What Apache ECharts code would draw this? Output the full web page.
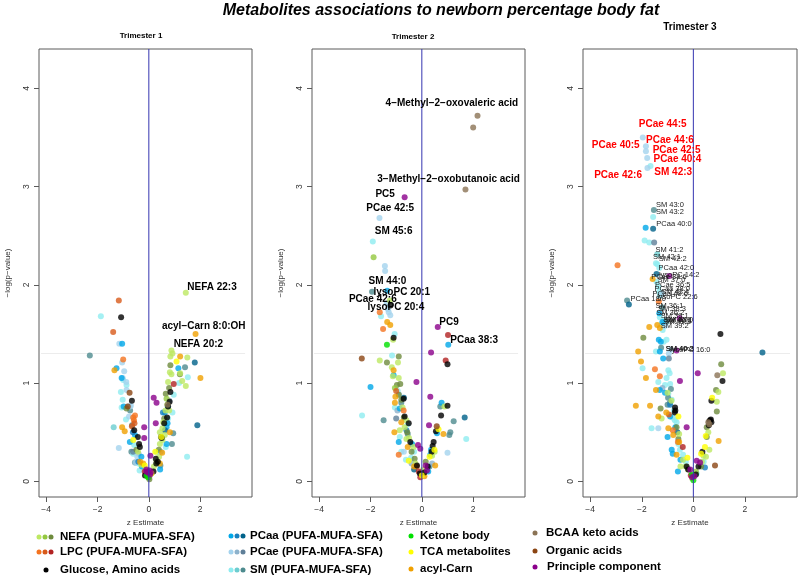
<!DOCTYPE html>
<html><head><meta charset="utf-8">
<script src="https://cdn.jsdelivr.net/npm/echarts@6/dist/echarts.min.js"></script>
<style>html,body{margin:0;padding:0;background:#fff}#c{width:800px;height:578px}</style>
</head><body><div id="c"></div>
<script>
// ---------- categories & legend ----------
const catKeys = ['sm','pcae','pcaa','nefa','lpc','acyl','glu','tca','ket','bcaa','org','pc'];
const catLabels = {
  nefa:'NEFA (PUFA-MUFA-SFA)', lpc:'LPC (PUFA-MUFA-SFA)', glu:'Glucose, Amino acids',
  pcaa:'PCaa (PUFA-MUFA-SFA)', pcae:'PCae (PUFA-MUFA-SFA)', sm:'SM (PUFA-MUFA-SFA)',
  ket:'Ketone body', tca:'TCA metabolites', acyl:'acyl-Carn',
  bcaa:'BCAA keto acids', org:'Organic acids', pc:'Principle component'
};
const catColors = {
  nefa:['#bde862','#94c840','#6e8b3d'], lpc:['#f4731f','#d85a1a','#b22222'], glu:['#000000'],
  pcaa:['#00a8e8','#1580c0','#00628a'], pcae:['#a4d3ee','#8db2cc','#5f7f98'], sm:['#8eecf0','#6ccdd0','#4d8b8e'],
  ket:['#00e000'], tca:['#ffff00'], acyl:['#f0a000'], bcaa:['#8b7355'], org:['#8b4513'], pc:['#8b008b']
};
const panelTitles = ['Trimester 1','Trimester 2','Trimester 3'];
const xTicks = [-4,-2,0,2];
const yTicks = [0,1,2,3,4];
const pThreshold = 1.301; // -log10(0.05)
const zeroLine = [[0,-0.16],[0,4.40]];
const thresholdLine = [[-4.2,pThreshold],[3.75,pThreshold]];

// ---------- Trimester 1 : [z, -log(p), shade] ----------
const t1Nefa = [[1.44,1.92,0],[0.88,1.33,0],[0.92,1.30,0],[0.84,1.27,0],[1.50,1.26,0],[0.84,1.18,2],[0.82,1.11,0],[0.88,1.09,0],[1.21,1.09,2],[1.22,1.10,0],[1.30,1.02,0],[1.44,0.97,0],[0.75,1.01,0],[0.79,0.95,2],[0.66,0.89,2],[0.69,0.84,1],[0.79,0.72,0],[0.65,0.72,0],[0.60,0.64,2],[0.53,0.54,0],[0.43,0.50,0],[0.62,0.47,0],[0.53,0.42,0],[0.43,0.38,0],[0.39,0.32,2],[0.40,0.25,0],[0.30,0.20,0],[0.20,0.15,0],[0.10,0.08,1],[0.02,0.02,2],[-0.05,0.05,0],[-0.87,0.74,2],[-0.48,0.32,2],[-0.42,0.30,0],[-0.30,0.17,0],[0.01,0.04,2],[0.72,0.78,1],[0.56,0.60,0],[0.47,0.45,2]];
const t1Lpc = [[-1.17,1.84,1],[-1.39,1.52,1],[-1.00,1.24,0],[-0.54,0.67,0],[-0.61,0.65,0],[-0.58,0.62,0],[-0.56,0.59,1],[0.97,0.99,2],[-0.16,0.10,2],[-0.66,0.56,1]];
const t1Glu = [[-1.08,1.67],[-0.66,0.82],[-0.57,0.52],[-0.43,0.45],[-0.38,0.38],[-0.35,0.35],[0.84,0.91],[0.81,0.81],[0.71,0.65],[0.60,0.59],[0.35,0.20],[0.27,0.23],[0.29,0.18],[0.50,0.44],[0.18,0.10],[-0.15,0.06],[0.75,0.76]];
const t1Pcaa = [[-1.04,1.40,0],[-1.26,1.15,0],[-1.06,1.05,0],[-0.98,0.76,0],[-0.54,0.47,0],[-0.74,0.40,0],[-0.29,0.25,0],[-0.27,0.15,0],[1.79,1.21,2],[1.15,1.15,0],[0.74,0.76,0],[0.62,0.70,0],[0.73,0.59,0],[0.69,0.55,0],[0.69,0.38,0],[1.89,0.57,2],[0.44,0.12,0],[-0.41,0.20,1],[0.55,0.70,1],[0.63,0.52,2],[-0.62,0.50,1]];
const t1Pcae = [[-1.15,1.40,0],[-1.04,1.21,0],[-0.96,1.12,0],[-1.02,1.05,0],[-0.88,1.01,0],[-0.87,0.93,0],[-0.74,0.76,0],[-0.80,0.76,1],[-0.70,0.77,0],[-0.77,0.66,0],[-1.17,0.34,0],[-0.52,0.19,0],[-0.40,0.28,1],[-0.61,0.30,2],[0.47,0.30,1],[0.80,0.82,1],[-0.45,0.25,0]];
const t1Sm = [[-1.87,1.68,0],[-2.30,1.28,2],[-1.00,1.03,0],[-0.87,0.98,0],[-1.09,0.91,0],[-1.02,0.83,0],[-1.06,0.75,0],[-0.73,0.72,2],[-0.89,0.63,0],[-1.37,0.55,1],[-0.65,0.57,2],[-0.57,0.37,0],[-0.68,0.30,2],[-0.61,0.28,0],[-0.54,0.19,2],[-0.41,0.18,0],[-0.36,0.11,0],[1.41,1.16,2],[1.18,1.00,0],[1.52,1.06,0],[0.97,0.88,0],[0.92,0.70,0],[0.75,0.64,0],[0.95,0.49,2],[0.66,0.35,0],[0.90,0.38,2],[1.49,0.25,0],[0.45,0.16,2],[0.38,0.18,0],[0.30,0.30,0]];
const t1Ket = [[-0.08,0.06],[-0.03,0.04]];
const t1Tca = [[1.08,1.22],[-0.61,0.42],[0.49,0.45],[-0.16,0.16],[0.10,0.08],[0.25,0.30]];
const t1Acyl = [[1.82,1.50],[1.22,1.27],[2.01,1.05],[-1.34,1.13],[-1.04,0.55],[-0.94,0.51],[0.82,0.50],[0.43,0.18],[-0.22,0.18],[0.52,0.29],[-0.34,0.20]];
const t1Bcaa = [[0.73,0.78]];
const t1Org = [[-0.75,0.90],[-0.82,0.76]];
const t1Pc = [[-0.18,0.55],[-0.18,0.44],[0.19,0.85],[0.30,0.80],[0.27,0.59],[0.06,0.26],[-0.09,0.12],[0.03,0.11],[-0.03,0.09],[0.05,0.07],[-0.10,0.10],[0.08,0.09]];
const t1Labels = [['NEFA 22:3',2.46,1.97],['acyl-Carn 8:0:OH',2.14,1.58],['NEFA 20:2',1.93,1.39]];

// ---------- Trimester 2 ----------
const t2Nefa = [[-1.88,2.28,1],[-1.25,1.84,0],[-1.12,1.44,0],[-1.64,1.23,0],[-0.90,1.27,2],[-1.36,1.21,2],[-0.93,1.21,0],[-1.13,1.07,0],[-0.90,1.05,0],[-0.97,0.98,2],[-0.84,0.99,2],[-0.90,0.88,2],[-0.80,0.83,2],[0.88,0.76,0],[-0.70,0.65,2],[-0.67,0.55,0],[-0.86,0.52,0],[-0.57,0.50,2],[-0.50,0.44,0],[-0.32,0.35,0],[-0.40,0.30,2],[-0.28,0.23,2],[-0.25,0.18,0],[0.00,0.07,0],[0.05,0.12,0],[0.15,0.20,2],[0.40,0.26,0],[-1.17,1.16,0],[-0.75,0.75,0],[-0.60,0.62,0],[0.50,0.30,0],[-1.05,0.95,1],[-0.60,0.43,0]];
const t2Lpc = [[-1.64,1.72,0],[-1.51,1.55,0],[-0.71,0.72,0],[-0.90,0.27,0],[1.02,1.49,2],[0.93,1.23,2],[-0.12,0.10,2],[-0.06,0.04,2],[-0.20,0.15,1],[-1.00,0.92,1]];
const t2Glu = [[-1.22,1.79],[-1.10,1.46],[1.00,1.19],[1.00,0.77],[0.75,0.67],[0.55,0.51],[0.46,0.40],[0.42,0.36],[0.23,0.15],[-0.71,0.84],[-0.67,0.66],[-0.51,0.59],[-0.45,0.40],[-0.19,0.16],[-0.08,0.08],[0.10,0.09],[0.38,0.30]];
const t2Pcaa = [[-1.35,1.94,0],[-2.00,0.96,0],[1.03,1.39,0],[0.77,0.80,0],[1.67,0.65,2],[0.59,0.49,0],[0.36,0.32,0],[0.33,0.27,0],[-0.86,0.74,0],[-0.90,0.40,0],[-0.38,0.38,0],[-1.10,1.08,0],[-0.60,0.52,1],[-0.30,0.12,2],[0.25,0.10,0],[-0.70,0.85,2]];
const t2Pcae = [[-1.65,2.68,0],[-1.44,2.19,0],[-1.43,2.14,0],[-1.29,1.72,0],[-1.23,1.69,0],[-1.37,1.81,0],[-1.32,1.75,0],[1.00,0.29,0],[-0.88,0.88,0],[-0.95,0.72,1],[-0.70,0.30,0],[-0.40,0.18,1],[-1.00,0.64,2],[0.40,0.18,1]];
const t2Sm = [[-1.91,2.44,0],[-1.94,1.93,2],[-1.59,1.68,0],[-1.06,1.50,0],[-1.16,1.28,0],[-2.33,0.67,0],[-1.49,0.62,2],[1.24,0.61,2],[1.11,0.50,2],[1.07,0.47,2],[1.73,0.43,0],[0.72,0.76,2],[-0.86,0.45,0],[-0.55,0.58,0],[-0.94,0.92,0],[-0.80,0.30,0],[-0.55,0.48,2],[-0.42,0.24,0],[-0.62,0.22,0],[0.30,0.15,2],[-0.80,0.80,2],[-1.05,0.75,0],[-0.30,0.30,0]];
const t2Ket = [[-1.36,1.39]];
const t2Tca = [[0.65,0.53],[0.49,0.32],[-0.51,0.21],[0.00,0.06],[0.30,0.25]];
const t2Acyl = [[-1.35,1.62],[-1.23,1.59],[-1.10,1.13],[-1.03,0.86],[-1.07,0.50],[0.84,0.48],[0.52,0.16],[-0.30,0.15],[-1.05,0.80],[-0.80,0.60],[0.10,0.05],[-0.55,0.35]];
const t2Bcaa = [[2.17,3.72],[2.00,3.60],[1.70,2.97]];
const t2Org = [[-2.34,1.25],[0.58,0.56]];
const t2Pc = [[-0.67,2.89],[0.62,1.57],[0.36,1.31],[-0.21,1.01],[0.33,0.86],[0.28,0.57],[-0.15,0.37],[-0.06,0.33],[0.20,0.11],[0.15,0.16]];
const t2Labels = [['4-Methyl-2-oxovaleric acid',1.17,3.85],['3-Methyl-2-oxobutanoic acid',1.04,3.07],['PC5',-1.43,2.92],['PCae 42:5',-1.23,2.78],['SM 45:6',-1.10,2.54],['SM 44:0',-1.34,2.04],['lysoPC 20:1',-0.78,1.92],['PCae 42:6',-1.91,1.85],['lysoPC 20:4',-1.01,1.77],['PC9',1.06,1.62],['PCaa 38:3',2.04,1.44]];

// ---------- Trimester 3 ----------
const t3Nefa = [[-1.94,1.46,2],[-1.27,0.74,2],[-1.23,0.64,0],[-0.58,0.43,2],[-0.65,0.55,2],[-0.55,0.48,0],[-0.40,0.22,0],[-0.30,0.15,0],[-0.50,0.15,0],[1.08,1.19,2],[1.15,1.10,0],[0.88,0.93,2],[0.97,0.91,0],[0.91,0.81,0],[0.91,0.71,2],[0.52,0.55,2],[0.58,0.50,0],[0.52,0.45,2],[0.62,0.32,0],[0.39,0.26,0],[0.49,0.25,0],[0.33,0.20,0],[0.30,0.15,2],[-1.00,0.90,0],[-0.05,0.03,0],[0.10,0.10,1],[-0.85,0.82,0],[-0.20,0.12,0]];
const t3Lpc = [[-2.94,2.20,0],[-1.34,1.83,0],[-1.49,1.14,0],[-1.30,1.07,0],[-0.80,0.52,0],[-0.41,0.35,2],[-0.10,0.06,2],[-0.60,0.40,0],[-0.95,0.68,1]];
const t3Glu = [[1.05,1.50],[1.13,1.02],[0.70,0.82],[0.65,0.62],[0.68,0.63],[0.62,0.61],[0.70,0.60],[0.60,0.57],[-0.71,0.75],[-0.70,0.72],[-0.72,0.70],[-0.26,0.15],[-0.20,0.12],[0.20,0.15],[0.10,0.07],[0.35,0.30]];
const t3Pcaa = [[-1.85,2.58,0],[-1.56,2.57,2],[-1.43,2.11,2],[-2.50,1.80,2],[-1.32,1.71,0],[-1.34,1.44,0],[-1.26,1.42,0],[-1.30,1.32,0],[-1.17,1.25,0],[-1.30,0.93,0],[-1.10,0.90,0],[-0.84,0.32,0],[-0.80,0.28,0],[-0.70,0.55,0],[-0.62,0.50,2],[-0.90,0.78,1],[2.68,1.31,2],[-1.20,1.62,0],[-0.90,0.66,0],[-0.50,0.22,0],[0.45,0.14,1],[-1.00,0.45,0],[-0.60,0.10,0]];
const t3Pcae = [[-1.96,3.50,0],[-1.84,3.41,0],[-1.84,3.36,0],[-1.79,3.29,0],[-1.78,3.19,0],[-1.52,2.43,2],[-1.23,1.91,0],[-0.88,1.34,0],[-0.95,1.30,0],[-0.95,1.25,2],[-1.36,0.54,0],[-1.10,1.58,0],[-1.20,0.95,1]];
const t3Sm = [[-1.66,3.21,0],[-1.53,2.76,2],[-1.56,2.69,0],[-1.89,2.45,0],[-1.71,2.43,0],[-1.40,2.31,1],[-1.45,2.22,0],[-1.40,2.21,0],[-1.32,2.17,0],[-1.43,2.03,0],[-1.36,1.98,0],[-1.32,1.93,0],[-1.30,1.89,0],[-2.57,1.84,2],[-1.21,1.77,2],[-1.30,1.67,0],[-1.14,1.64,0],[-1.04,1.62,0],[-1.23,1.60,0],[-1.19,1.54,0],[-1.04,1.44,0],[-1.45,1.32,0],[-1.97,1.15,0],[-0.97,1.13,0],[-0.92,1.10,0],[-1.04,1.05,0],[-1.36,1.01,0],[-1.10,0.98,0],[-0.90,0.99,0],[-0.87,0.94,2],[-0.97,0.89,0],[-0.84,0.83,0],[-0.98,0.85,2],[-0.91,0.80,2],[-1.00,0.78,2],[-1.62,0.54,0],[-0.80,0.65,0],[-0.72,0.62,0],[-0.65,0.60,0],[-0.58,0.38,0],[-0.52,0.32,0],[-0.40,0.27,0],[-0.29,0.20,0],[0.13,0.08,0],[0.40,0.20,0],[-1.15,1.42,0],[-1.25,1.36,2],[-0.75,0.72,0]];
const t3Ket = [[0.00,0.01],[-0.06,0.07]];
const t3Tca = [[0.73,0.85],[0.48,0.46],[0.45,0.35],[0.30,0.28],[-0.23,0.24],[-0.58,0.66]];
const t3Acyl = [[-1.58,2.06],[-1.71,1.57],[-1.40,1.59],[-1.30,1.56],[-2.14,1.32],[-2.03,1.22],[-1.84,1.05],[-1.45,0.93],[-2.23,0.77],[-1.68,0.77],[-1.36,0.66],[-0.97,0.54],[-0.78,0.47],[0.98,0.41],[-0.65,0.27],[-1.05,0.70],[-0.55,0.40]];
const t3Bcaa = [[0.93,1.08],[0.58,0.60],[0.62,0.58]];
const t3Org = [[0.84,0.16]];
const t3Pc = [[-0.93,2.09],[-0.53,1.66],[-0.65,1.33],[0.17,1.10],[-0.52,1.02],[-0.26,0.55],[0.13,0.21],[0.26,0.19],[-0.12,0.12],[0.04,0.05],[-0.05,0.04]];
const t3RedLabels = [['PCae 44:5',-1.19,3.63],['PCae 44:6',-0.91,3.47],['PCae 40:5',-3.01,3.42],['PCae 42:5',-0.65,3.37],['PCae 40:4',-0.62,3.28],['SM 42:3',-0.78,3.15],['PCae 42:6',-2.92,3.12]];
const t3SmallLabels = [['SM 43:0',-0.91,2.81],['SM 43:2',-0.91,2.74],['PCaa 40:0',-0.75,2.62],['SM 41:2',-0.93,2.35],['SM 42:1',-1.02,2.28],['SM 42:2',-0.80,2.26],['PCaa 42:0',-0.66,2.17],['lysoPC 14:2',-0.55,2.10],['PCae 38:6',-0.95,2.08],['SM 37:0',-0.85,2.05],['PCae 36:5',-0.80,2.00],['PCaa 38:0',-0.82,1.96],['SM 42:4',-0.70,1.93],['PCaa 40:6',-0.90,1.91],['lysoPC 22:6',-0.62,1.88],['PCaa 18:0',-1.75,1.86],['SM 36:1',-0.93,1.78],['SM 38:3',-0.83,1.75],['SM 36:2',-0.90,1.71],['SM 39:1',-0.72,1.68],['SM 40:0',-0.62,1.64],['SM 40:1',-0.58,1.63],['SM 41:1',-0.64,1.62],['SM 38:0',-0.55,1.64],['SM 39:2',-0.72,1.58],['SM 40:2',-0.54,1.35],['SM 40:3',-0.52,1.35],['lysoPC 16:0',-0.12,1.34]];

// ---------- assemble ----------
const panels = [
  {nefa:t1Nefa,lpc:t1Lpc,glu:t1Glu,pcaa:t1Pcaa,pcae:t1Pcae,sm:t1Sm,ket:t1Ket,tca:t1Tca,acyl:t1Acyl,bcaa:t1Bcaa,org:t1Org,pc:t1Pc},
  {nefa:t2Nefa,lpc:t2Lpc,glu:t2Glu,pcaa:t2Pcaa,pcae:t2Pcae,sm:t2Sm,ket:t2Ket,tca:t2Tca,acyl:t2Acyl,bcaa:t2Bcaa,org:t2Org,pc:t2Pc},
  {nefa:t3Nefa,lpc:t3Lpc,glu:t3Glu,pcaa:t3Pcaa,pcae:t3Pcae,sm:t3Sm,ket:t3Ket,tca:t3Tca,acyl:t3Acyl,bcaa:t3Bcaa,org:t3Org,pc:t3Pc}
];
const boldLabels = [t1Labels, t2Labels, []];

const FAM = "'Liberation Sans', Arial, Helvetica, sans-serif";
const minus = s => String(s).replace(/-/g, '\u2212');
const gridPos = [{left:39,width:213},{left:312,width:213},{left:583,width:214}];

const labelStyle = (color, size, weight) => ({show:true, position:'inside', formatter:p=>minus(p.name),
  color:color, fontWeight:weight, fontSize:size, fontFamily:FAM, textBorderWidth:0, textShadowBlur:0, opacity:1});

const grids = [], xAxes = [], yAxes = [], series = [];
gridPos.forEach((g, i) => {
  grids.push({left:g.left, top:49, width:g.width, height:448, show:true, borderColor:'#5a5a5a', borderWidth:1, backgroundColor:'transparent', containLabel:false});
  xAxes.push({type:'value', gridIndex:i, min:-4.28, max:4.02, position:'bottom',
    splitLine:{show:false}, axisLine:{show:false, onZero:false},
    axisTick:{show:true, customValues:xTicks, length:5, lineStyle:{color:'#5a5a5a'}},
    axisLabel:{customValues:xTicks, formatter:v=>minus(v), fontSize:8.5, color:'#333', margin:8, fontFamily:FAM},
    axisPointer:{show:false},
    name:'z Estimate', nameLocation:'middle', nameGap:21, nameTextStyle:{fontSize:8, color:'#333', fontFamily:FAM}});
  yAxes.push({type:'value', gridIndex:i, min:-0.16, max:4.40, position:'left',
    splitLine:{show:false}, axisLine:{show:false, onZero:false},
    axisTick:{show:true, customValues:yTicks, length:5, lineStyle:{color:'#5a5a5a'}},
    axisLabel:{customValues:yTicks, rotate:90, fontSize:8.5, color:'#333', margin:8, fontFamily:FAM},
    axisPointer:{show:false},
    name:minus('-log(p-value)'), nameLocation:'middle', nameRotate:90, nameGap:27, nameTextStyle:{fontSize:8, color:'#333', fontFamily:FAM}});

  // significance threshold (horizontal, faint)
  series.push({type:'line', xAxisIndex:i, yAxisIndex:i, data:thresholdLine, silent:true, z:1,
    symbol:'none', lineStyle:{color:'#ececec', width:1}, itemStyle:{color:'#ececec'}});

  catKeys.forEach(k => {
    const arr = panels[i][k];
    series.push({type:'scatter', name:catLabels[k], xAxisIndex:i, yAxisIndex:i, symbolSize:6, silent:true, z:2,
      data: arr.map(d => ({value:[d[0], d[1]], itemStyle:{color:catColors[k][d[2]||0]}}))});
  });

  // zero line (vertical, blue)
  series.push({type:'line', xAxisIndex:i, yAxisIndex:i, data:zeroLine, silent:true, z:3,
    symbol:'none', lineStyle:{color:'#3535b0', width:1}, itemStyle:{color:'#3535b0'}});

  // bold black labels
  series.push({type:'scatter', xAxisIndex:i, yAxisIndex:i, symbolSize:1, silent:true, z:5,
    itemStyle:{color:'rgba(0,0,0,0)'},
    label:labelStyle('#000', 10, 'bold'),
    data: boldLabels[i].map(l => ({name:l[0], value:[l[1], l[2]]}))});
});

// Trimester 3 red + small labels
series.push({type:'scatter', xAxisIndex:2, yAxisIndex:2, symbolSize:1, silent:true, z:5,
  itemStyle:{color:'rgba(0,0,0,0)'},
  label:labelStyle('#ff0000', 10, 'bold'),
  data: t3RedLabels.map(l => ({name:l[0], value:[l[1], l[2]]}))});
series.push({type:'scatter', xAxisIndex:2, yAxisIndex:2, symbolSize:1, silent:true, z:5,
  itemStyle:{color:'rgba(0,0,0,0)'},
  label:labelStyle('#1a1a1a', 7.5, 'normal'),
  data: t3SmallLabels.map(l => ({name:l[0], value:[l[1], l[2]]}))});

// ---------- titles & legend (graphic) ----------
const graphics = [];
graphics.push({type:'text', x:441, y:11, style:{text:'Metabolites associations to newborn percentage body fat', font:`italic bold 16px ${FAM}`, fill:'#000', textAlign:'center', textVerticalAlign:'middle'}});
const titlePos = [[141,36,8],[413,37,8],[690,27,10]];
panelTitles.forEach((t, i) => {
  graphics.push({type:'text', x:titlePos[i][0], y:titlePos[i][1], style:{text:t, font:`bold ${titlePos[i][2]}px ${FAM}`, fill:'#000', textAlign:'center', textVerticalAlign:'middle'}});
});
const legendLayout = [
  ['nefa',[39,45,51],60,537],['lpc',[39,45,51],60,552],['glu',[46],60,570],
  ['pcaa',[231,237,243],250,536],['pcae',[231,237,243],250,552],['sm',[231,237,243],250,570],
  ['ket',[411],420,536],['tca',[411],420,552],['acyl',[411],420,569],
  ['bcaa',[535],546,533],['org',[535],546,551],['pc',[535],547,567]
];
legendLayout.forEach(([k, dots, tx, y]) => {
  dots.forEach((dx, j) => graphics.push({type:'circle', shape:{cx:dx, cy:y, r:2.5}, style:{fill:catColors[k][Math.min(j, catColors[k].length-1)]}}));
  graphics.push({type:'text', x:tx, y:y, style:{text:catLabels[k], font:`bold 11.5px ${FAM}`, fill:'#000', textAlign:'left', textVerticalAlign:'middle'}});
});

const chart = echarts.init(document.getElementById('c'), null, {renderer:'canvas'});
chart.setOption({animation:false, grid:grids, xAxis:xAxes, yAxis:yAxes, series:series, graphic:graphics});
</script></body></html>
